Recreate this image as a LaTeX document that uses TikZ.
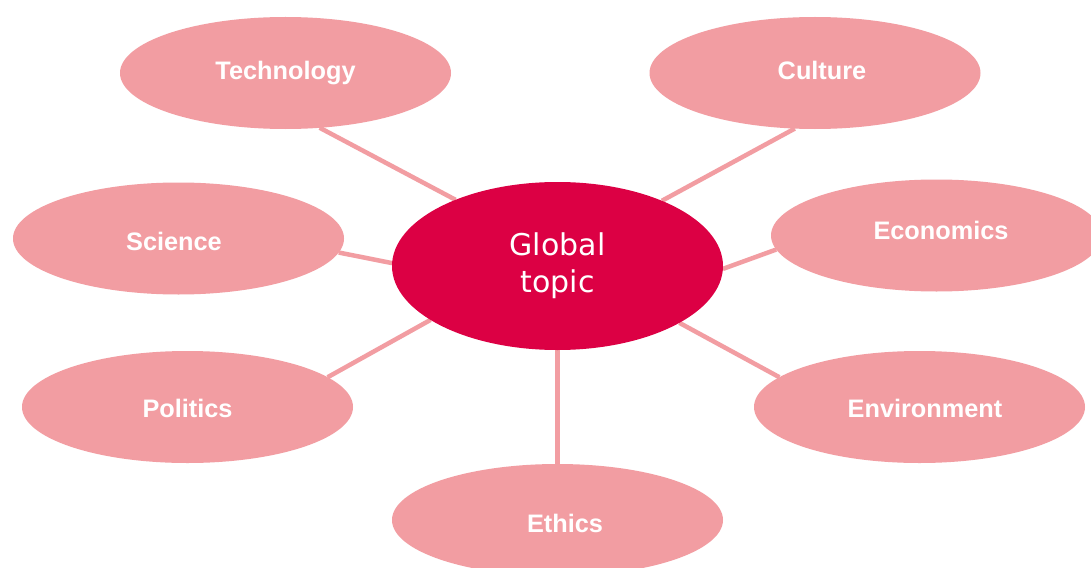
\documentclass[tikz,border=0pt]{standalone}
\usepackage{fontspec}
\setmainfont{Liberation Sans}
\newfontfamily\centerfont{DejaVu Sans}
\usetikzlibrary{shapes.geometric,backgrounds}
\definecolor{petal}{HTML}{F29DA2}
\definecolor{hub}{HTML}{DC0044}
\begin{document}
\begin{tikzpicture}[x=1pt,y=-1pt,
  petalnode/.style={ellipse,fill=petal,draw=none,minimum width=331pt,minimum height=112pt,
    inner sep=0pt,outer sep=0pt,text=white,font=\fontsize{25.3}{30}\selectfont\bfseries,
    text height=19pt,text depth=6pt},
  hubnode/.style={ellipse,fill=hub,draw=none,minimum width=331pt,minimum height=168pt,
    inner sep=0pt,outer sep=0pt,text=white,align=center,
    font=\centerfont\fontsize{30}{37}\selectfont},
  spoke/.style={draw=petal,line width=4.5pt}]
\clip (0,0) rectangle (1091,567);
\node[hubnode] (ctr) at (557.5,266) {Global\\topic};
\node[petalnode] (tech) at (285.5,73) {Technology};
\node[petalnode] (cult) at (815,73) {\hspace*{14pt}Culture};
\node[petalnode] (sci) at (178.5,238.5) {\raisebox{-5.5pt}{Science}\hspace*{9pt}};
\node[petalnode] (econ) at (936.5,235.5) {\hspace*{9pt}\raisebox{2.5pt}{Economics}};
\node[petalnode] (pol) at (187.5,407) {\raisebox{-4pt}{Politics}};
\node[petalnode] (env) at (919.5,407) {\hspace*{11pt}\raisebox{-4pt}{Environment}};
\node[petalnode] (eth) at (557.5,520) {\hspace*{15pt}\raisebox{-6pt}{Ethics}};
\begin{pgfonlayer}{background}
\fill[white] (0,0) rectangle (1091,567);
\draw[spoke] (tech.-58.4) -- (ctr.147.2);
\draw[spoke] (cult.250.7) -- (ctr.32.8);
\draw[spoke] (sci.-5.2) -- (ctr.179);
\draw[spoke] (econ.185.2) -- (ctr.-1);
\draw[spoke] (pol.12.1) -- (ctr.203.4);
\draw[spoke] (env.168) -- (ctr.-25.3);
\draw[spoke] (eth.90) -- (ctr.270);
\end{pgfonlayer}
\end{tikzpicture}
\end{document}
